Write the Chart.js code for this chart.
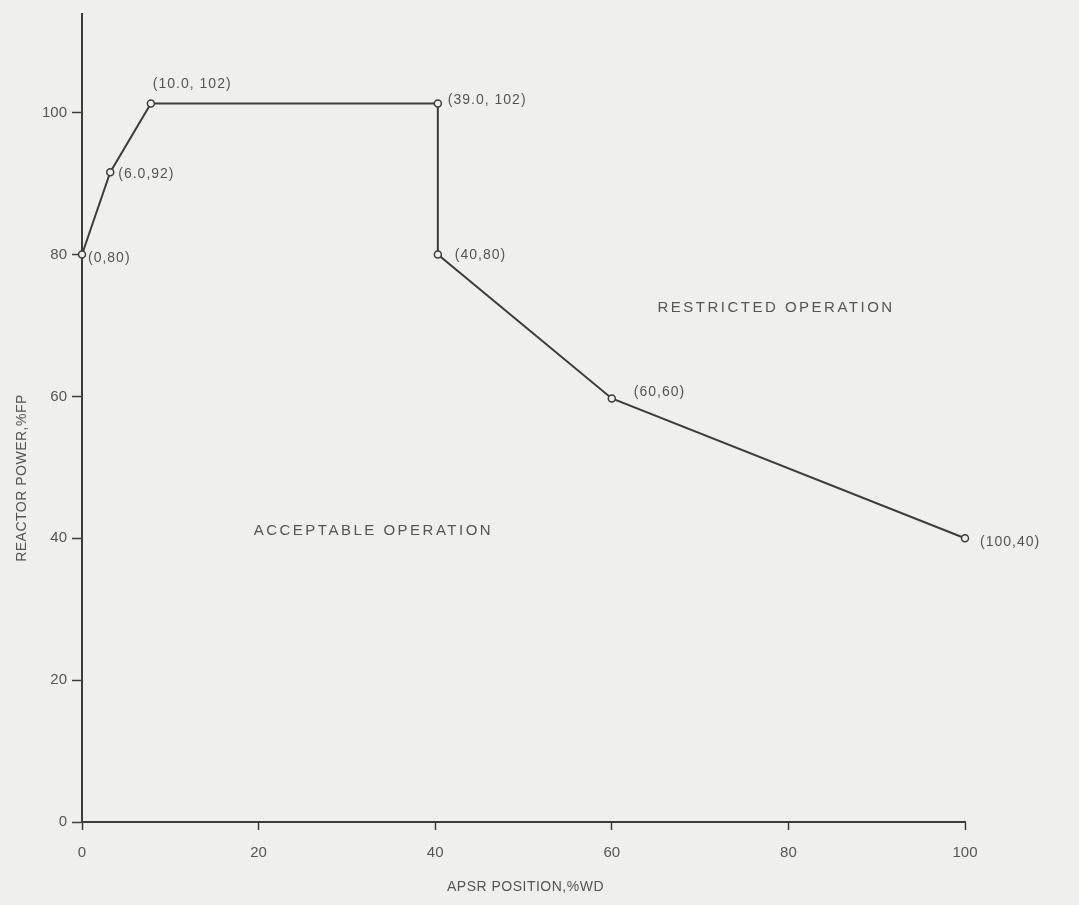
<!DOCTYPE html>
<html>
<head>
<meta charset="utf-8">
<script src="https://cdn.jsdelivr.net/npm/chart.js@4.4.1/dist/chart.umd.min.js"></script>
<style>
  html, body { margin: 0; padding: 0; background: #efefed; }
  #wrap { width: 1079px; height: 905px; position: relative; }
</style>
</head>
<body>
<div id="wrap"><canvas id="apsrChart"></canvas></div>
<script>
// values as drawn on the figure (APSR position %WD, reactor power %FP)
const apsrPos = [0, 3.2, 7.8, 40.3, 40.3, 60, 100];
const reactorPower = [80, 91.6, 101.3, 101.3, 80, 59.7, 40];
const pointLabels = ['(0,80)', '(6.0,92)', '(10.0, 102)', '(39.0, 102)', '(40,80)', '(60,60)', '(100,40)'];
const yTicks = [0, 20, 40, 60, 80, 100];
const xTicks = [0, 20, 40, 60, 80, 100];

// region captions, placed in data space
const regionText = ['ACCEPTABLE OPERATION', 'RESTRICTED OPERATION'];
const regionX = [33, 78.6];
const regionY = [41.1, 72.5];

// label offsets from their point, in pixels (style only)
const labelDx = [6, 8, 2, 10, 17, 22, 15];
const labelDy = [4, 2, -19, -3, 1, -6, 4];

const ink = '#3c3c3c';
const textInk = '#555';
const fontFam = '"Liberation Sans", Arial, sans-serif';

const annotate = {
  id: 'annotate',
  afterDatasetsDraw(chart) {
    const ctx = chart.ctx;
    const xs = chart.scales.x, ys = chart.scales.y;
    ctx.save();
    ctx.fillStyle = textInk;
    ctx.textBaseline = 'middle';

    // point labels
    ctx.font = '14px ' + fontFam;
    ctx.letterSpacing = '1px';
    ctx.textAlign = 'left';
    pointLabels.forEach((txt, i) => {
      const px = xs.getPixelForValue(apsrPos[i]);
      const py = ys.getPixelForValue(reactorPower[i]);
      ctx.fillText(txt, px + labelDx[i], py + labelDy[i]);
    });

    // region captions
    ctx.font = '15px ' + fontFam;
    ctx.letterSpacing = '2.5px';
    ctx.textAlign = 'center';
    regionText.forEach((txt, i) => {
      ctx.fillText(txt, xs.getPixelForValue(regionX[i]), ys.getPixelForValue(regionY[i]));
    });

    // axis titles
    ctx.font = '14px ' + fontFam;
    ctx.letterSpacing = '0.5px';
    ctx.fillText('APSR POSITION,%WD', (xs.left + xs.right) / 2 + 2, 887);
    ctx.translate(22, 478);
    ctx.rotate(-Math.PI / 2);
    ctx.fillText('REACTOR POWER,%FP', 0, 0);
    ctx.restore();
  }
};

new Chart(document.getElementById('apsrChart'), {
  type: 'scatter',
  data: {
    datasets: [{
      data: apsrPos.map((x, i) => ({ x: x, y: reactorPower[i] })),
      showLine: true,
      clip: false,
      borderColor: ink,
      borderWidth: 2,
      pointRadius: 3.5,
      pointBorderWidth: 1.5,
      pointBackgroundColor: '#efefed',
      pointBorderColor: ink,
      tension: 0
    }]
  },
  options: {
    responsive: true,
    maintainAspectRatio: false,
    animation: false,
    layout: { padding: { top: 0, right: 114, left: 0, bottom: 0 } },
    plugins: {
      legend: { display: false },
      tooltip: { enabled: false }
    },
    scales: {
      x: {
        type: 'linear',
        min: 0,
        max: 100,
        afterFit(scale) { scale.height = 83; },
        afterBuildTicks(scale) { scale.ticks = xTicks.map(v => ({ value: v })); },
        border: { display: true, color: ink, width: 2 },
        grid: { drawOnChartArea: false, drawTicks: true, tickLength: 8, color: ink, tickWidth: 1.5 },
        ticks: {
          padding: 14,
          color: textInk,
          font: { family: fontFam, size: 15 },
          maxRotation: 0
        }
      },
      y: {
        type: 'linear',
        min: 0,
        max: 113.9,
        afterFit(scale) { scale.width = 82; },
        afterBuildTicks(scale) { scale.ticks = yTicks.map(v => ({ value: v })); },
        border: { display: true, color: ink, width: 2 },
        grid: { drawOnChartArea: false, drawTicks: true, tickLength: 10, color: ink, tickWidth: 1.5 },
        ticks: {
          padding: 5,
          color: textInk,
          font: { family: fontFam, size: 15 }
        }
      }
    }
  },
  plugins: [annotate]
});
</script>
</body>
</html>
